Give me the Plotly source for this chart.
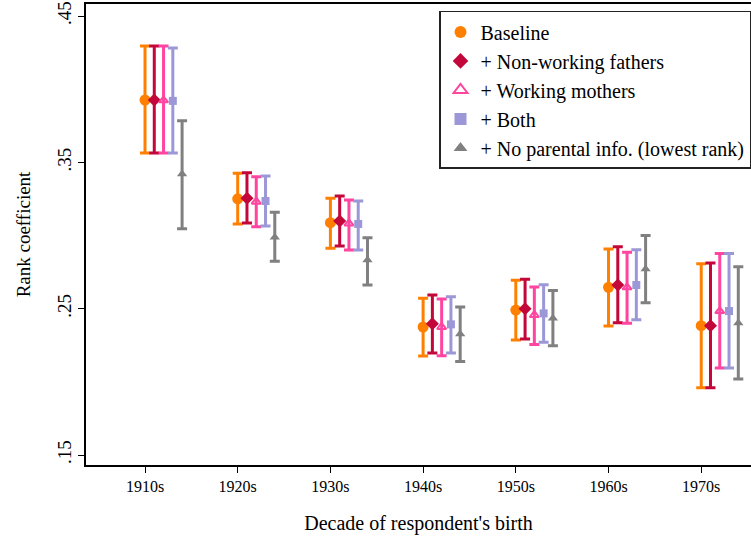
import plotly.graph_objects as go

decades = ["1910s", "1920s", "1930s", "1940s", "1950s", "1960s", "1970s"]

series_names = ["Baseline", "+ Non-working fathers", "+ Working mothers", "+ Both",
                "+ No parental info. (lowest rank)"]

baseline_est = [0.3926, 0.3251, 0.3088, 0.2375, 0.2491, 0.2646, 0.2384]
baseline_lo = [0.3564, 0.3079, 0.2913, 0.2177, 0.2286, 0.2382, 0.1960]
baseline_hi = [0.4295, 0.3425, 0.3254, 0.2571, 0.2694, 0.2908, 0.2807]

nonwork_est = [0.3926, 0.3254, 0.3099, 0.2397, 0.2500, 0.2662, 0.2384]
nonwork_lo = [0.3564, 0.3085, 0.2928, 0.2197, 0.2293, 0.2404, 0.1960]
nonwork_hi = [0.4295, 0.3429, 0.3270, 0.2593, 0.2701, 0.2924, 0.2812]

workmom_est = [0.3924, 0.3231, 0.3083, 0.2375, 0.2457, 0.2646, 0.2484]
workmom_lo = [0.3564, 0.3060, 0.2901, 0.2179, 0.2256, 0.2400, 0.2094]
workmom_hi = [0.4295, 0.3402, 0.3243, 0.2566, 0.2648, 0.2885, 0.2878]

both_est = [0.3920, 0.3236, 0.3079, 0.2393, 0.2468, 0.2662, 0.2484]
both_lo = [0.3564, 0.3065, 0.2901, 0.2197, 0.2270, 0.2425, 0.2094]
both_hi = [0.4281, 0.3407, 0.3236, 0.2582, 0.2664, 0.2903, 0.2878]

noinfo_est = [0.3420, 0.2988, 0.2833, 0.2327, 0.2434, 0.2771, 0.2402]
noinfo_lo = [0.3046, 0.2824, 0.2662, 0.2140, 0.2247, 0.2541, 0.2019]
noinfo_hi = [0.3785, 0.3159, 0.2985, 0.2511, 0.2625, 0.3001, 0.2787]

y_ticks = [0.15, 0.25, 0.35, 0.45]
y_ticklabels = [".15", ".25", ".35", ".45"]

series = [
    (baseline_est, baseline_lo, baseline_hi),
    (nonwork_est, nonwork_lo, nonwork_hi),
    (workmom_est, workmom_lo, workmom_hi),
    (both_est, both_lo, both_hi),
    (noinfo_est, noinfo_lo, noinfo_hi),
]
colors = ["#FF8000", "#C4073A", "#FF45A0", "#9C98D8", "#808080"]
symbols = ["circle", "diamond", "triangle-up-open", "square", "triangle-up"]
msizes = [11, 10, 8, 8, 9]
offset_step = 0.1

FONT = "Liberation Serif, Times New Roman, serif"

fig = go.Figure()
for i, ((est, lo, hi), name) in enumerate(zip(series, series_names)):
    xs = [k + 1 + i * offset_step for k in range(len(decades))]
    fig.add_trace(go.Scatter(
        x=xs, y=est, mode="markers", name=name,
        marker=dict(symbol=symbols[i], size=msizes[i], color=colors[i],
                    line=dict(width=2 if "open" in symbols[i] else 0, color=colors[i])),
        error_y=dict(type="data", symmetric=False,
                     array=[h - e for h, e in zip(hi, est)],
                     arrayminus=[e - l for e, l in zip(est, lo)],
                     color=colors[i], thickness=3, width=5),
    ))

fig.update_layout(
    width=751, height=537,
    margin=dict(l=86, r=0, t=4, b=72),
    paper_bgcolor="white", plot_bgcolor="white",
    font=dict(family=FONT, color="black", size=16),
    showlegend=True,
    legend=dict(x=1, xanchor="right", y=0.985, yanchor="top",
                bgcolor="white", bordercolor="#222", borderwidth=1.5,
                font=dict(size=20, family=FONT), tracegroupgap=0,
                itemsizing="constant"),
    xaxis=dict(
        range=[0.3635, 7.537], automargin=False,
        tickmode="array", tickvals=list(range(1, len(decades) + 1)), ticktext=decades,
        ticks="outside", ticklen=6, tickwidth=1, tickcolor="black",
        showline=True, linecolor="black", linewidth=1.5, mirror=True,
        showgrid=False, zeroline=False,
        tickfont=dict(size=16),
        title=dict(text="Decade of respondent's birth", font=dict(size=20), standoff=22),
    ),
    yaxis=dict(
        range=[0.1432, 0.4582], automargin=False,
        tickmode="array", tickvals=y_ticks, ticktext=y_ticklabels,
        tickangle=-90,
        ticks="outside", ticklen=6, tickwidth=1, tickcolor="black",
        showline=True, linecolor="black", linewidth=1.5,
        showgrid=False, zeroline=False,
        tickfont=dict(size=19),
        title=dict(text="Rank coefficient", font=dict(size=19), standoff=18),
    ),
)

fig.write_html(
    "out.html",
    config={"displayModeBar": False},
    post_script="document.body.style.margin='0';document.body.style.overflow='hidden';",
)
